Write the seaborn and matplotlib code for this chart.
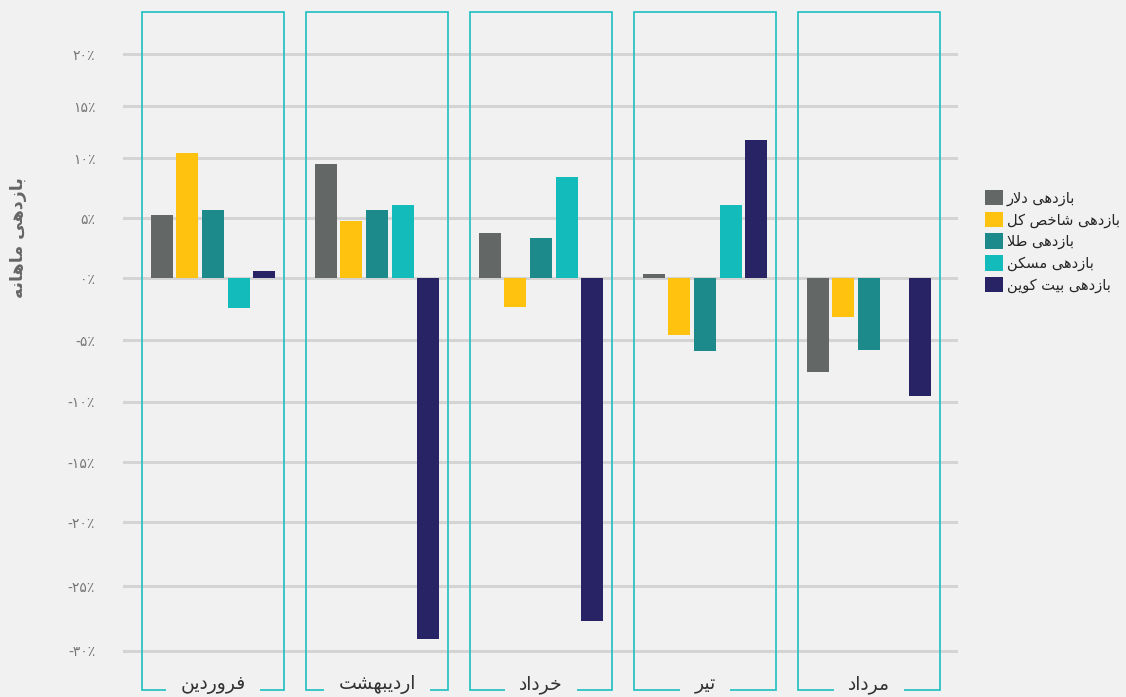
import numpy as np
import pandas as pd
import matplotlib
matplotlib.use("Agg")
import matplotlib.pyplot as plt
import matplotlib.transforms as mtransforms
from matplotlib.patches import Rectangle
import seaborn as sns

# ---------------- data ----------------
months = ["فروردین", "اردیبهشت", "خرداد", "تیر", "مرداد"]
series = ["بازدهی دلار", "بازدهی شاخص کل", "بازدهی طلا", "بازدهی مسکن", "بازدهی بیت کوین"]
dollar = [5.3, 9.5, 3.8, 0.4, -7.6]
index_ = [10.5, 4.8, -2.3, -4.6, -3.1]
gold = [5.7, 5.7, 3.4, -5.9, -5.8]
housing = [-2.4, 6.1, 8.4, 6.1, 0.0]
bitcoin = [0.6, -29.1, -27.7, 11.7, -9.5]
yticks = [-30, -25, -20, -15, -10, -5, 0, 5, 10, 15, 20]
ylabel = "بازدهی ماهانه"
colors = ["#636766", "#FFC20E", "#1C8A8A", "#14BBBB", "#282364"]

# axis of the original is slightly uneven: screen offsets of its gridlines
grid_px = [650.7, 586.3, 522.0, 462.3, 401.7, 340.0, 278.3, 218.3, 158.0, 106.0, 54.0]

# ---------------- simple Persian shaping ----------------
FORMS = {
    'ا': ('\uFE8D', '\uFE8E', None, None),
    'ب': ('\uFE8F', '\uFE90', '\uFE91', '\uFE92'),
    'ت': ('\uFE95', '\uFE96', '\uFE97', '\uFE98'),
    'خ': ('\uFEA5', '\uFEA6', '\uFEA7', '\uFEA8'),
    'د': ('\uFEA9', '\uFEAA', None, None),
    'ر': ('\uFEAD', '\uFEAE', None, None),
    'ز': ('\uFEAF', '\uFEB0', None, None),
    'س': ('\uFEB1', '\uFEB2', '\uFEB3', '\uFEB4'),
    'ش': ('\uFEB5', '\uFEB6', '\uFEB7', '\uFEB8'),
    'ص': ('\uFEB9', '\uFEBA', '\uFEBB', '\uFEBC'),
    'ط': ('\uFEC1', '\uFEC2', '\uFEC3', '\uFEC4'),
    'ف': ('\uFED1', '\uFED2', '\uFED3', '\uFED4'),
    'ل': ('\uFEDD', '\uFEDE', '\uFEDF', '\uFEE0'),
    'م': ('\uFEE1', '\uFEE2', '\uFEE3', '\uFEE4'),
    'ن': ('\uFEE5', '\uFEE6', '\uFEE7', '\uFEE8'),
    'ه': ('\uFEE9', '\uFEEA', '\uFEEB', '\uFEEC'),
    'و': ('\uFEED', '\uFEEE', None, None),
    'ی': ('\uFBFC', '\uFBFD', '\uFBFE', '\uFBFF'),
    'ک': ('\uFB8E', '\uFB8F', '\uFB90', '\uFB91'),
}


def joins_left(c):
    return c in FORMS and FORMS[c][2] is not None


def shape(text):
    out = []
    i = 0
    n = len(text)
    while i < n:
        c = text[i]
        if c not in FORMS:
            out.append(c)
            i += 1
            continue
        prev = text[i - 1] if i > 0 else ''
        jp = joins_left(prev)
        if c == 'ل' and i + 1 < n and text[i + 1] == 'ا':
            out.append('\uFEFC' if jp else '\uFEFB')
            i += 2
            continue
        nxt = text[i + 1] if i + 1 < n else ''
        jn = joins_left(c) and nxt in FORMS
        iso, fin, ini, med = FORMS[c]
        if jp and jn:
            out.append(med)
        elif jp:
            out.append(fin)
        elif jn:
            out.append(ini)
        else:
            out.append(iso)
        i += 1
    return ''.join(out)[::-1]


PDIG = str.maketrans("0123456789", "۰۱۲۳۴۵۶۷۸۹")


def fa_pct(v):
    s = str(abs(int(v))).translate(PDIG) + "٪"
    return ("-" + s) if v < 0 else s


# piecewise-linear y scale reproducing the original's spacing
kv = np.array(yticks, dtype=float)
kp = -np.array(grid_px, dtype=float)
lo_slope = (kp[1] - kp[0]) / (kv[1] - kv[0])
hi_slope = (kp[-1] - kp[-2]) / (kv[-1] - kv[-2])
kv_ext = np.concatenate([[kv[0] - 100], kv, [kv[-1] + 100]])
kp_ext = np.concatenate([[kp[0] - 100 * lo_slope], kp, [kp[-1] + 100 * hi_slope]])


def fwd(v):
    return np.interp(v, kv_ext, kp_ext)


def inv(p):
    return np.interp(p, kp_ext, kv_ext)


# ---------------- frame ----------------
rows = []
vals = [dollar, index_, gold, housing, bitcoin]
for s, vs in zip(series, vals):
    for m, v in zip(months, vs):
        rows.append({"month": shape(m), "series": shape(s), "value": v})
df = pd.DataFrame(rows)

sns.set_theme(style="white")
plt.rcParams['font.family'] = ['DejaVu Sans']
BG = "#F1F1F1"

fig = plt.figure(figsize=(11.26, 6.97), dpi=100, facecolor=BG)
W, H = 1126, 697
ax = fig.add_axes([123 / W, 7 / H, (958 - 123) / W, (690 - 12) / H])
ax.set_facecolor(BG)

sns.barplot(data=df, x="month", y="value", hue="series",
            order=[shape(m) for m in months],
            hue_order=[shape(s) for s in series],
            palette=colors, width=0.78, gap=0.14, saturation=1,
            errorbar=None, ax=ax, zorder=3, linewidth=0, edgecolor="none")

ax.set_yscale('function', functions=(fwd, inv))
ax.set_xlim(-0.549, 4.543)
ax.set_ylim(inv(-690.0), inv(-12.0))
ax.set_yticks(yticks)
ax.set_yticklabels([fa_pct(v) for v in yticks], color="#777777", fontsize=10)
ax.tick_params(axis='y', length=0, pad=20)
ax.minorticks_off()
ax.set_xticks([])
ax.set_xlabel("")
ax.set_ylabel("")
for sp in ax.spines.values():
    sp.set_visible(False)
ax.grid(axis='y', which='major', color="#D4D4D4", linewidth=2.2, zorder=0)
ax.set_axisbelow(True)

# group boxes and labels
trans = mtransforms.blended_transform_factory(ax.transData, ax.transAxes)
transf = mtransforms.blended_transform_factory(ax.transData, fig.transFigure)
for i, m in enumerate(months):
    r = Rectangle((i - 0.433, 0), 0.866, 1, transform=trans, fill=False,
                  edgecolor="#2CC3C3", linewidth=1.3, clip_on=False, zorder=4)
    ax.add_patch(r)
    ax.text(i, 1 - 684 / H, shape(m), transform=transf, ha='center', va='center',
            fontsize=13.5, color="#333333", zorder=6,
            bbox=dict(boxstyle='square,pad=0.75', fc=BG, ec='none'))

# y label
fig.text(18 / W, 1 - 238 / H, shape(ylabel), rotation=90, ha='center', va='center',
         fontsize=12.5, fontweight='bold', color="#666666")

# legend
handles, labels = ax.get_legend_handles_labels()
ax.legend(handles, labels, loc='upper left', bbox_to_anchor=(985 / W, 1 - 190 / H),
          bbox_transform=fig.transFigure, frameon=False, fontsize=10.5,
          handlelength=1.25, handleheight=1.25, handletextpad=0.25,
          labelspacing=0.4, borderpad=0, borderaxespad=0)

fig.savefig("out.png", dpi=100, facecolor=BG)
